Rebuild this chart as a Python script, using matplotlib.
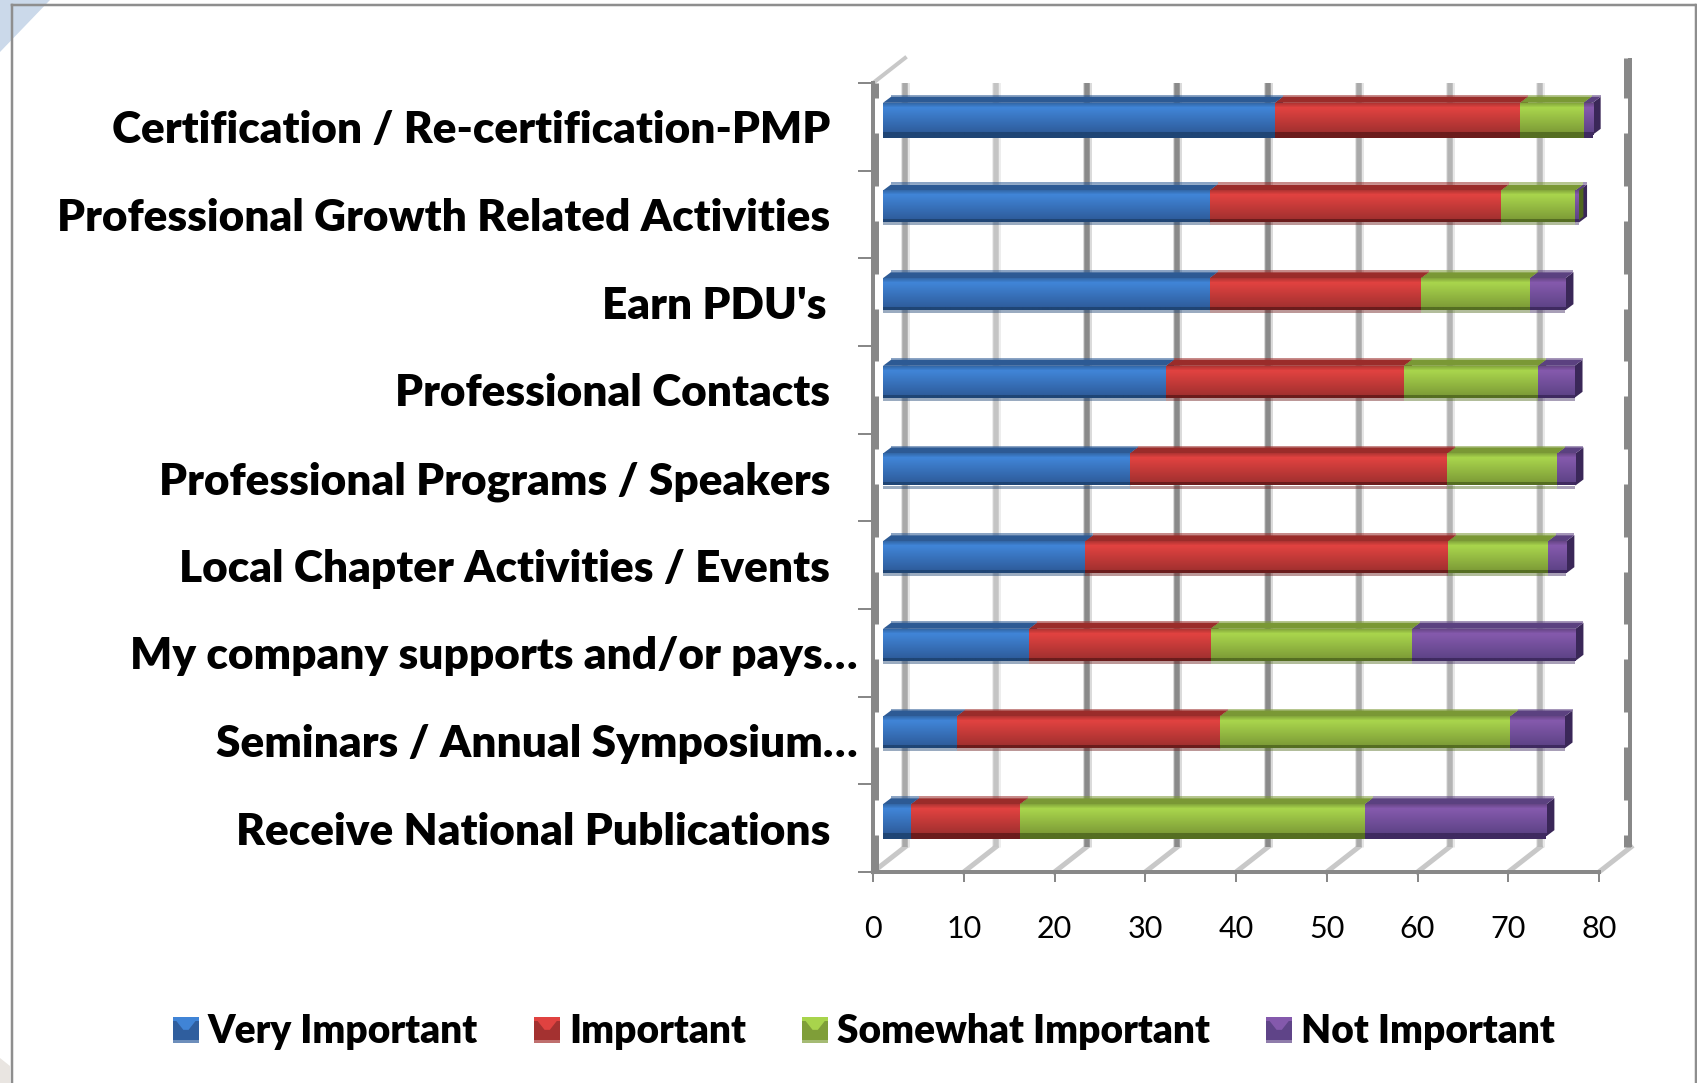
#!/usr/bin/env python3
"""Stacked horizontal bars with the look of an Excel 3-D chart."""
import numpy as np
import matplotlib
matplotlib.use('Agg')
import matplotlib.pyplot as plt
from matplotlib.legend_handler import HandlerBase
from matplotlib.lines import Line2D
from matplotlib.patches import Patch, Polygon, Rectangle
from matplotlib.transforms import offset_copy

# ---------------------------------------------------------------------------
# Data (top row first)
# ---------------------------------------------------------------------------
categories = ["Certification / Re-certification-PMP",
              "Professional Growth Related Activities",
              "Earn PDU's",
              "Professional Contacts",
              "Professional Programs / Speakers",
              "Local Chapter Activities / Events",
              "My company supports and/or pays…",
              "Seminars / Annual Symposium…",
              "Receive National Publications"]
series_names = ["Very Important", "Important", "Somewhat Important", "Not Important"]
very_important = [43.2, 36, 36, 31.2, 27.2, 22.3, 16.1, 8.1, 3.1]
important = [27, 32.1, 23.3, 26.2, 35, 40, 20, 29, 12]
somewhat_important = [7, 8.2, 12, 14.8, 12.1, 11, 22.2, 32, 38]
not_important = [1, 0.4, 3.9, 4, 2, 2, 18, 6, 20]
x_ticks = [0, 10, 20, 30, 40, 50, 60, 70, 80]

# ---------------------------------------------------------------------------
# Style: colours are (bright, mid, bottom edge, top face, side face)
# ---------------------------------------------------------------------------
W, H = 1697, 1083
DPI = 100
PX = 72.0 / DPI  # one pixel in points
FONT = 'Lato'
GREY = '#888888'
SHADES = [('#4084d6', '#2f5e9e', '#1f4575', '#2d5a94', '#1c3c68'),
          ('#e04240', '#a43130', '#6b1c1c', '#9a2c2a', '#641a1a'),
          ('#a8d44c', '#7f9e38', '#556e22', '#7a9835', '#4f661f'),
          ('#8459ac', '#5f4488', '#3f2a60', '#5b4180', '#3a2758')]
GRID_SHADES = ['#a9a9a9', '#c4c4c4', '#8a8a8a', '#8a8a8a', '#8a8a8a',
               '#aaaaaa', '#b4b4b4', '#b8b8b8']

AX_L, AX_R, AX_T, AX_B = 873, 1599, 83, 872
X_PX = (AX_R - AX_L) / 80.0
Y_PX = (AX_B - AX_T) / 9.0
DEPTH_X, DEPTH_Y = 8, 6  # bar depth, px
BAR_H = 32  # bar front height, px

plt.rcParams['font.family'] = [FONT, 'DejaVu Sans']


def hex_rgb(c):
    return np.array(matplotlib.colors.to_rgb(c))


def bar_gradient(shade):
    bright, mid, edge = hex_rgb(shade[0]), hex_rgb(shade[1]), hex_rgb(shade[2])
    top = bright * 0.8
    rows = [top + (bright - top) * t for t in np.linspace(0, 1, 5)]
    rows += [bright + (mid - bright) * t for t in np.linspace(0, 1, 24)]
    rows += [edge] * 3
    return np.array(rows)[:, None, :]


def fig_xy(x, y):
    return x / W, 1 - y / H


fig = plt.figure(figsize=(W / DPI, H / DPI), dpi=DPI, facecolor='white')

# slide background peeking out around the chart frame
fig.add_artist(Polygon([fig_xy(0, 0), fig_xy(50, 0), fig_xy(0, 52)],
                       transform=fig.transFigure, facecolor='#cbd9ea', edgecolor='none'))
fig.add_artist(Polygon([fig_xy(0, 1058), fig_xy(10, 1066), fig_xy(10, H), fig_xy(0, H)],
                       transform=fig.transFigure, facecolor='#e9e5e1', edgecolor='none'))
for (x0, y0), (x1, y1) in [((11.5, 5), (1695, 5)), ((11.5, 5), (11.5, H)), ((1695.5, 5), (1695.5, H))]:
    a, b = fig_xy(x0, y0), fig_xy(x1, y1)
    fig.add_artist(Line2D([a[0], b[0]], [a[1], b[1]], color='#8e8e8e', lw=2.5 * PX,
                          transform=fig.transFigure))

ax = fig.add_axes([AX_L / W, (H - AX_B) / H, (AX_R - AX_L) / W, (AX_B - AX_T) / H])
ax.patch.set_alpha(0)
ax.set_autoscale_on(False)
ax.set_xlim(0, 80)
ax.set_ylim(8.5, -0.5)

y_pos = np.arange(len(categories))
back = offset_copy(ax.transData, fig, x=32 * PX, y=25 * PX, units='points')
back_rail = offset_copy(ax.transData, fig, x=31 * PX, y=0, units='points')
back_thick = offset_copy(ax.transData, fig, x=28 * PX, y=0, units='points')
left_thick = offset_copy(ax.transData, fig, x=1.5 * PX, y=0, units='points')
front = offset_copy(ax.transData, fig, x=10 * PX, y=8 * PX, units='points')

# ---------------------------------------------------------------------------
# Walls and floor
# ---------------------------------------------------------------------------
for tick, shade in zip(x_ticks[:-1], GRID_SHADES):
    ax.vlines(tick, -0.5, 8.5, transform=back, color=shade, alpha=0.3, lw=9 * PX, zorder=1)
    ax.vlines(tick, -0.5, 8.5, transform=back, color=shade, lw=5.5 * PX, zorder=1.1)
for tick in x_ticks:
    ax.plot([tick, tick + 32 / X_PX], [8.5, 8.5 - 25 / Y_PX], color='#c8c8c8',
            lw=5 * PX, zorder=1, clip_on=False)
ax.plot([0, 32 / X_PX], [-0.5, -0.5 - 25 / Y_PX], color='#c8c8c8', lw=4 * PX,
        zorder=1, clip_on=False)
wall_top, wall_bottom = -0.5 - 25 / Y_PX, 8.5 - 25 / Y_PX
ax.vlines(80, wall_top, wall_bottom, transform=back_rail, color=GREY, lw=4 * PX, zorder=1.1,
          clip_on=False)
for edge in np.arange(-0.5, 9.5):
    lo, hi = edge - 0.425, edge + 0.175
    ax.vlines(80, max(lo, wall_top), min(hi, wall_bottom), transform=back_thick, color=GREY,
              lw=7 * PX, zorder=1.2, clip_on=False)
    ax.vlines(0, max(lo, -0.5), min(hi, 8.5), transform=left_thick, color=GREY, lw=7 * PX,
              zorder=2, clip_on=False)

# ---------------------------------------------------------------------------
# Bars
# ---------------------------------------------------------------------------
table = np.array([very_important, important, somewhat_important, not_important], dtype=float)
ends = np.cumsum(table, axis=0)
dx, dy = DEPTH_X / X_PX, DEPTH_Y / Y_PX
half = BAR_H / Y_PX / 2

for row in y_pos:
    hi, lo = row - half, row + half
    # sides go right to left so a very thin last segment only peeks out
    for s in range(3, -1, -1):
        x1 = ends[s, row]
        ax.add_patch(Polygon([(x1, hi), (x1 + dx, hi - dy), (x1 + dx, lo - dy), (x1, lo)],
                             transform=front, facecolor=SHADES[s][4], edgecolor='none',
                             zorder=3, clip_on=False))
    for s in range(4):
        x0 = ends[s - 1, row] if s else 0
        x1 = ends[s, row]
        ax.add_patch(Polygon([(x0, hi), (x1, hi), (x1 + dx, hi - dy), (x0 + dx, hi - dy)],
                             transform=front, facecolor=SHADES[s][3], edgecolor='none',
                             zorder=4, clip_on=False))
        # pale fringe above the top face
        ax.add_patch(Rectangle((x0 + dx, hi - dy - 2 / Y_PX), x1 - x0, 2 / Y_PX,
                               transform=front, facecolor=SHADES[s][3], edgecolor='none',
                               alpha=0.55, zorder=2.5, clip_on=False))
        # pale fringe under the front, dark on the outer rows
        fringe = 1.0 if row in (0, 8) else 0.45
        ax.add_patch(Rectangle((x0, lo), x1 - x0, 3 / Y_PX, transform=front,
                               facecolor=SHADES[s][2], edgecolor='none', alpha=fringe,
                               zorder=2.5, clip_on=False))
        ax.imshow(bar_gradient(SHADES[s]), extent=(x0, x1, lo, hi), origin='upper',
                  transform=front, aspect='auto', interpolation='bilinear', zorder=5,
                  clip_on=False)

ax.set_xlim(0, 80)
ax.set_ylim(8.5, -0.5)

# ---------------------------------------------------------------------------
# Axes
# ---------------------------------------------------------------------------
for name in ('top', 'right'):
    ax.spines[name].set_visible(False)
for name in ('left', 'bottom'):
    ax.spines[name].set_color(GREY)
    ax.spines[name].set_linewidth(4 * PX)

ax.set_xticks(x_ticks)
ax.tick_params(axis='x', length=10 * PX, width=2 * PX, color=GREY, pad=33 * PX,
               labelsize=22, labelcolor='black')
ax.set_yticks(y_pos)
ax.set_yticklabels(categories, fontweight='heavy', fontsize=31.8, color='black')
ax.set_yticks(np.arange(-0.5, 9.5), minor=True)
ax.tick_params(axis='y', which='major', length=0, pad=43 * PX)
ax.tick_params(axis='y', which='minor', length=15 * PX, width=2 * PX, color=GREY)
for tick, name in zip(ax.yaxis.get_major_ticks(), categories):
    if name.endswith('…'):
        tick.set_pad(15 * PX)
    elif name.startswith('Earn'):
        tick.set_pad(47 * PX)


# ---------------------------------------------------------------------------
# Legend
# ---------------------------------------------------------------------------
class BevelSwatch(HandlerBase):
    def create_artists(self, legend, orig, xd, yd, width, height, fontsize, trans):
        base = orig.get_facecolor()
        shade = [s for s in SHADES if np.allclose(matplotlib.colors.to_rgba(s[1]), base)][0]
        x, y, w, h = -xd, -yd, width, height
        outer = Rectangle((x, y), w, h, facecolor=shade[1], edgecolor='none', transform=trans)
        foot = Rectangle((x, y), w, h * 0.13, facecolor='white', alpha=0.3, edgecolor='none',
                         transform=trans)
        head = Rectangle((x, y + h * 0.85), w, h * 0.15, facecolor=shade[0], edgecolor='none',
                         transform=trans)
        wedge = Polygon([(x + w * 0.12, y + h * 0.85), (x + w * 0.88, y + h * 0.85),
                         (x + w * 0.6, y + h * 0.5), (x + w * 0.4, y + h * 0.5)],
                        facecolor=shade[0], edgecolor='none', transform=trans)
        return [outer, foot, head, wedge]


LEGEND_PT = 28
handles = [Patch(facecolor=s[1]) for s in SHADES]
fig.legend(handles, series_names, ncols=4, loc='center', bbox_to_anchor=(864 / W, 1 - 1032 / H),
           frameon=False, handler_map={Patch: BevelSwatch()},
           prop={'family': FONT, 'weight': 'heavy', 'size': LEGEND_PT},
           handlelength=26 * PX / LEGEND_PT, handleheight=26 * PX / LEGEND_PT,
           handletextpad=9 * PX / LEGEND_PT, columnspacing=56 * PX / LEGEND_PT, borderpad=0)

fig.savefig('out.png', dpi=DPI, facecolor='white')
